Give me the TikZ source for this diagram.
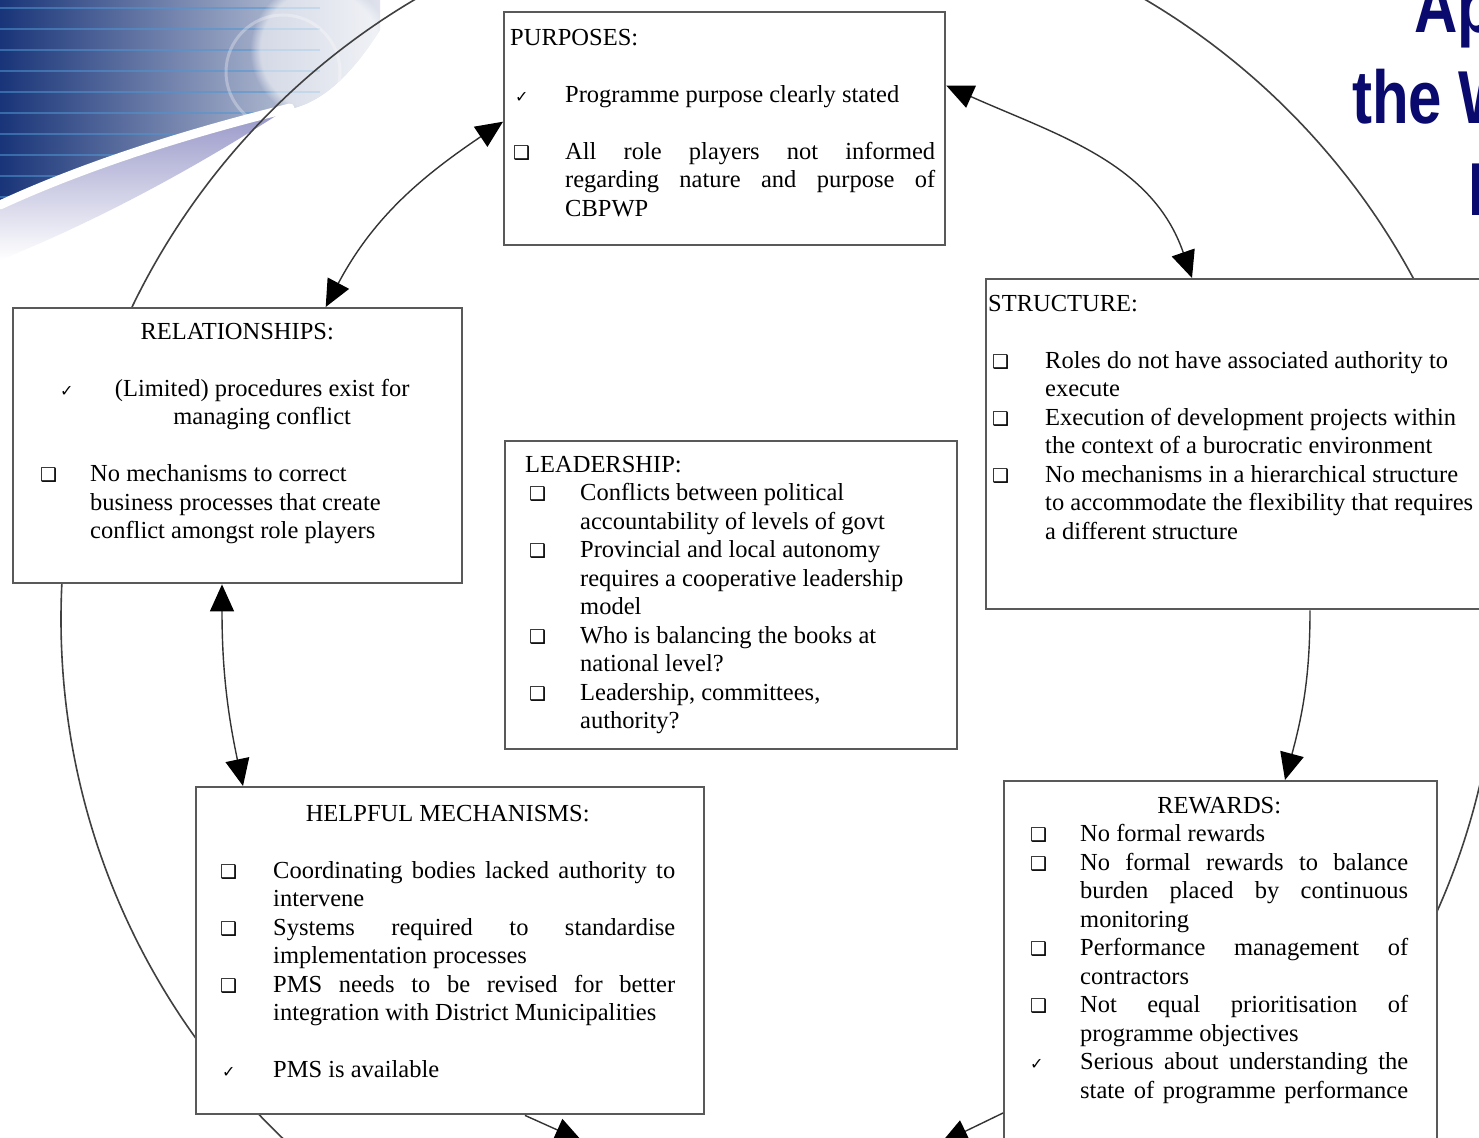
\documentclass[tikz,border=0pt]{standalone}
\usepackage{graphicx}
\usepackage{fontspec}
\setmainfont{Liberation Serif}
\newfontfamily\symfont{DejaVu Sans}
\newfontfamily\titlefont{Liberation Sans}
\usetikzlibrary{arrows.meta,fadings}
\definecolor{navy}{RGB}{10,10,110}
\definecolor{bgdark}{RGB}{25,52,120}
\definecolor{bgmid}{RGB}{70,95,170}
\definecolor{stripe}{RGB}{80,150,210}
\definecolor{lav}{RGB}{150,150,200}
\newcommand{\ck}{{\symfont\fontsize{16}{16}\selectfont ✓}}
\newcommand{\bx}{{\symfont\fontsize{19}{19}\selectfont ❑}}
\newcommand{\js}[2]{\makebox[#1pt][s]{#2}}

\begin{document}
\begin{tikzpicture}[x=1pt,y=-1pt,
    >={Triangle[length=27pt,width=24pt,color=black]},
    box/.style={draw=black!65,line width=2.4,fill=white,anchor=north west,inner sep=0},
    txt/.style={anchor=north west,inner sep=0,font=\fontsize{24.5}{28.5}\selectfont},
    link/.style={draw=black!80,line width=1.4},
    circ/.style={draw=black!75,line width=1.6},
    title/.style={anchor=base west,inner sep=0,text=navy,font=\titlefont\bfseries\fontsize{75}{80}\selectfont}]
    \useasboundingbox (0,0) rectangle (1479,1137);
    \clip (0,0) rectangle (1479,1137);
    % --- Background ---
    \fill[white] (0,0) rectangle (1479,1137);
    \begin{scope}
        \clip (0,0) -- (380,0) -- (380,30) .. controls (345,85) and (315,105) .. (285,110)
            .. controls (180,135) and (80,168) .. (0,205) -- cycle;
        \shade[left color=bgdark, middle color=bgmid, right color=white] (0,0) rectangle (440,210);
        \foreach \y in {8,29,...,200}
            \draw[stripe, opacity=0.55, line width=2] (0,\y) -- (320,\y);
        \fill[white, opacity=0.55, path fading=circle with fuzzy edge 15 percent] (320,50) circle (70);
        \draw[white, opacity=0.3, line width=3] (283,72) circle (57);
    \end{scope}
    \shade[top color=lav, bottom color=white] (0,205) .. controls (80,168) and (180,135) .. (285,110)
        .. controls (200,165) and (100,220) .. (0,260) -- cycle;
    \draw[white, line width=9, line cap=round] (290,108) .. controls (180,135) and (80,168) .. (0,205);

    % --- Title ---
    \node[title] (ttla) at (1414,33) {\scalebox{0.8}[1]{Ap}};
    \node[title] (ttlb) at (1352,124) {\scalebox{0.8}[1]{the W}};
    \node[title] (ttlc) at (1468,215) {\scalebox{0.8}[1]{M}};

    % --- Circle ---
    \draw[circ] (780,619) circle (719);

    % --- Boxes ---
    \node[box, minimum width=441, minimum height=233] (purp) at (503,11) {};
    \node[box, minimum width=510, minimum height=330] (stru) at (985,278) {};
    \node[box, minimum width=449, minimum height=275] (rel) at (12,307) {};
    \node[box, minimum width=452, minimum height=308] (lead) at (504,440) {};
    \node[box, minimum width=508, minimum height=327] (help) at (195,786) {};
    \node[box, minimum width=433, minimum height=420] (rew) at (1003,780) {};

    % --- Purposes ---
    \node[txt] (purptxt) at (510,25) {\begin{tabular}{@{}p{55pt}@{}l@{}}
        \multicolumn{2}{@{}l@{}}{PURPOSES:}\\ &\\
        \hspace*{5pt}\ck & Programme purpose clearly stated\\ &\\
        \hspace*{3pt}\bx & \js{370}{All role players not informed}\\
        & \js{370}{regarding nature and purpose of}\\
        & CBPWP
    \end{tabular}};
    % --- Relationships ---
    \node[txt] (reltxt) at (40,319) {\begin{tabular}{@{}p{50pt}@{}l@{}}
        \multicolumn{2}{@{}l@{}}{\makebox[394pt][c]{RELATIONSHIPS:}}\\ &\\
        \hspace*{20pt}\ck & \makebox[344pt][c]{(Limited) procedures exist for}\\
        & \makebox[344pt][c]{managing conflict}\\ &\\
        \bx & No mechanisms to correct\\
        & business processes that create\\
        & conflict amongst role players
    \end{tabular}};
    % --- Structure ---
    \node[txt] (strutxt) at (988,291) {\begin{tabular}{@{}p{57pt}@{}l@{}}
        \multicolumn{2}{@{}l@{}}{STRUCTURE:}\\ &\\
        \hspace*{4pt}\bx & Roles do not have associated authority to\\
        & execute\\
        \hspace*{4pt}\bx & Execution of development projects within\\
        & the context of a burocratic environment\\
        \hspace*{4pt}\bx & No mechanisms in a hierarchical structure\\
        & to accommodate the flexibility that requires\\
        & a different structure
    \end{tabular}};
    % --- Leadership ---
    \node[txt] (leadtxt) at (525,452) {\begin{tabular}{@{}p{55pt}@{}l@{}}
        \multicolumn{2}{@{}l@{}}{LEADERSHIP:}\\
        \hspace*{4pt}\bx & Conflicts between political\\
        & accountability of levels of govt\\
        \hspace*{4pt}\bx & Provincial and local autonomy\\
        & requires a cooperative leadership\\
        & model\\
        \hspace*{4pt}\bx & Who is balancing the books at\\
        & national level?\\
        \hspace*{4pt}\bx & Leadership, committees,\\
        & authority?
    \end{tabular}};
    % --- Helpful mechanisms ---
    \node[txt] (helptxt) at (220,801) {\begin{tabular}{@{}p{53pt}@{}l@{}}
        \multicolumn{2}{@{}l@{}}{\makebox[455pt][c]{HELPFUL MECHANISMS:}}\\ &\\
        \bx & \js{402}{Coordinating bodies lacked authority to}\\
        & intervene\\
        \bx & \js{402}{Systems required to standardise}\\
        & implementation processes\\
        \bx & \js{402}{PMS needs to be revised for better}\\
        & integration with District Municipalities\\ &\\
        \hspace*{2pt}\ck & PMS is available
    \end{tabular}};
    % --- Rewards ---
    \node[txt] (rewtxt) at (1030,793) {\begin{tabular}{@{}p{50pt}@{}l@{}}
        \multicolumn{2}{@{}l@{}}{\makebox[378pt][c]{REWARDS:}}\\
        \bx & No formal rewards\\
        \bx & \js{328}{No formal rewards to balance}\\
        & \js{328}{burden placed by continuous}\\
        & monitoring\\
        \bx & \js{328}{Performance management of}\\
        & contractors\\
        \bx & \js{328}{Not equal prioritisation of}\\
        & programme objectives\\
        \ck & \js{328}{Serious about understanding the}\\
        & \js{328}{state of programme performance}
    \end{tabular}};

    % --- Links ---
    \coordinate (offl) at (582,1141);
    \coordinate (offr) at (941,1143);
    \draw[link,<->] ([yshift=7]purp.west) to[out=214,in=62] ([xshift=88]rel.north);
    \draw[link,<->] ([yshift=43]purp.east) to[out=-24,in=109] ([xshift=207]stru.north west);
    \draw[link,->] ([xshift=325]stru.south west) to[out=-90,in=75] ([xshift=282]rew.north west);
    \draw[link,<->] ([xshift=210]rel.south west) to[out=-90,in=102] ([xshift=48]help.north west);
    \draw[link,->] ([xshift=330]help.south west) -- (offl);
    \draw[link,->] ([yshift=-333]rew.north west) -- (offr);
\end{tikzpicture}
\end{document}
